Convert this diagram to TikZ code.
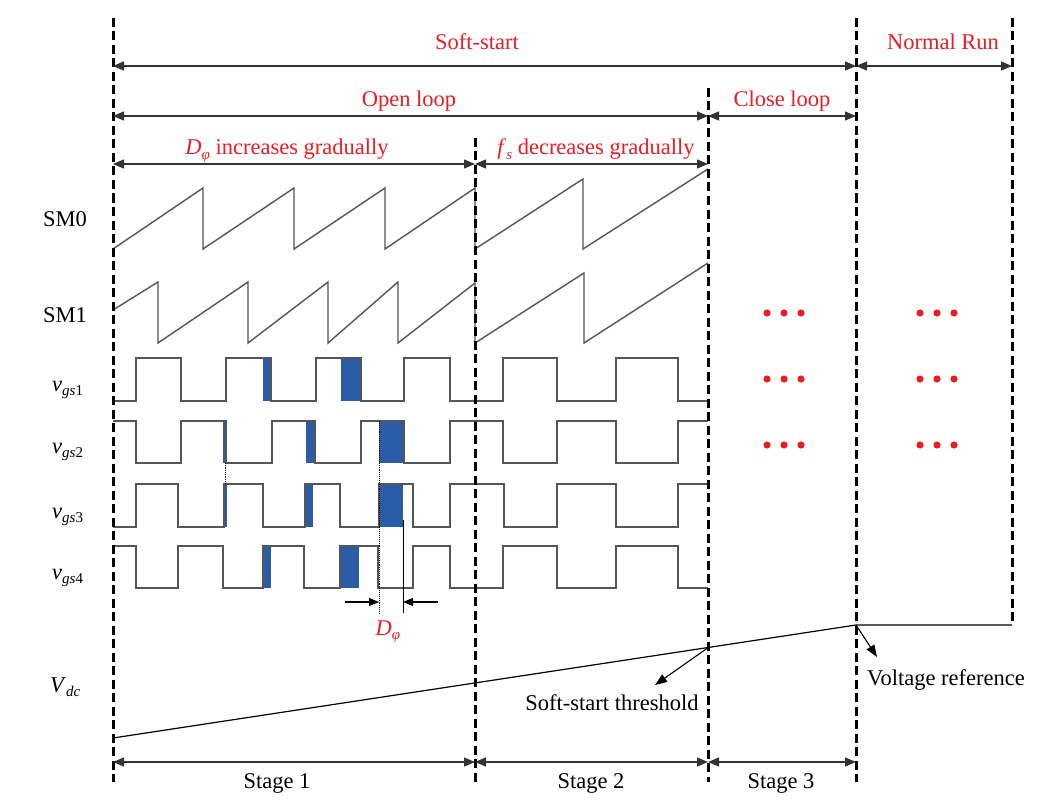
\documentclass[tikz,border=0pt]{standalone}
\usepackage{fontspec}
\setmainfont{Liberation Serif}
\usetikzlibrary{arrows.meta}
\definecolor{redt}{RGB}{235,28,36}
\definecolor{pulse}{RGB}{42,92,168}
\definecolor{wave}{RGB}{85,85,85}
\newcommand\lowsub[1]{\raisebox{-0.4ex}{\fontsize{15}{15}\selectfont #1}}
\begin{document}
\begin{tikzpicture}[x=1pt,y=-1pt,
  font=\fontsize{22.5}{26}\selectfont,
  bound/.style={line width=3pt, dash pattern=on 9pt off 4.5pt, black},
  span/.style={line width=1.3pt, draw=black!80, {Triangle[length=11pt,width=9pt]}-{Triangle[length=11pt,width=9pt]}},
  wv/.style={line width=1.4pt, draw=wave, line join=miter},
  lbl/.style={text=redt, inner sep=0pt, anchor=base},
  blk/.style={text=black, inner sep=0pt, anchor=base},
  sig/.style={inner sep=0pt, anchor=base west},
  pul/.style={fill=pulse},
  dot/.style={fill=redt, draw=none},
  callout/.style={line width=1.1pt, -{Triangle[length=12pt,width=9pt]}},
]
\useasboundingbox (0,0) rectangle (1062,805);

% ---------- boundaries ----------
\coordinate (b0t) at (113,18);   \coordinate (b0b) at (113,782);
\coordinate (b1t) at (475,138);  \coordinate (b1b) at (475,782);
\coordinate (b2t) at (708,88);   \coordinate (b2b) at (708,782);
\coordinate (b3t) at (856,18);   \coordinate (b3b) at (856,782);
\coordinate (b4t) at (1012,18);  \coordinate (b4b) at (1012,625);

% ---------- blue phase-shift fills ----------
\fill[pul] (263,358) rectangle (271,401);
\fill[pul] (341,358) rectangle (361,401);
\fill[pul] (223,421) rectangle (226,463);
\fill[pul] (306,421) rectangle (315,463);
\fill[pul] (379,421) rectangle (404,463);
\fill[pul] (224,484) rectangle (226.5,527);
\fill[pul] (305,484) rectangle (313,527);
\fill[pul] (379,484) rectangle (403,527);
\fill[pul] (263,546) rectangle (271,588);
\fill[pul] (340,546) rectangle (359,588);

% ---------- sawtooth carriers ----------
\draw[wv] (113,249) -- (203,188) -- (203,249) -- (294,188) -- (294,249) -- (385,188) -- (385,249) -- (475,188) -- (475,249) -- (583,179) -- (583,249) -- (708,169);
\draw[wv] (113,310) -- (158,282) -- (158,343) -- (248,282) -- (248,343) -- (328,282) -- (328,343) -- (398,282) -- (398,343) -- (475,283) -- (475,343) -- (584,273) -- (584,343) -- (708,263);

% ---------- gate signals ----------
\draw[wv] (113,401) -- (136,401) -- (136,358) -- (181,358) -- (181,401) -- (226,401) -- (226,358) -- (271,358) -- (271,401) -- (316,401) -- (316,358) -- (361,358) -- (361,401) -- (404,401) -- (404,358) -- (450,358) -- (450,401) -- (503,401) -- (503,358) -- (557,358) -- (557,401) -- (616,401) -- (616,358) -- (678,358) -- (678,401) -- (708,401);
\draw[wv] (113,421) -- (136,421) -- (136,463) -- (181,463) -- (181,421) -- (226,421) -- (226,463) -- (272,463) -- (272,421) -- (315,421) -- (315,463) -- (361,463) -- (361,421) -- (404,421) -- (404,463) -- (450,463) -- (450,421) -- (503,421) -- (503,463) -- (557,463) -- (557,421) -- (616,421) -- (616,463) -- (678,463) -- (678,421) -- (708,421);
\draw[wv] (113,527) -- (136,527) -- (136,484) -- (178,484) -- (178,527) -- (224,527) -- (224,484) -- (263,484) -- (263,527) -- (305,527) -- (305,484) -- (340,484) -- (340,527) -- (379,527) -- (379,484) -- (413,484) -- (413,527) -- (450,527) -- (450,484) -- (504,484) -- (504,527) -- (557,527) -- (557,484) -- (616,484) -- (616,527) -- (678,527) -- (678,484) -- (708,484);
\draw[wv] (113,546) -- (136,546) -- (136,588) -- (178,588) -- (178,546) -- (223,546) -- (223,588) -- (263,588) -- (263,546) -- (304,546) -- (304,588) -- (340,588) -- (340,546) -- (378,546) -- (378,588) -- (413,588) -- (413,546) -- (450,546) -- (450,588) -- (503,588) -- (503,546) -- (557,546) -- (557,588) -- (616,588) -- (616,546) -- (678,546) -- (678,588) -- (708,588);
\draw[densely dotted, line width=0.8pt] (225.5,463) -- (225.5,484);

% ---------- D_phi marker ----------
\coordinate (dl1) at (379,421); \coordinate (dl2) at (379,613);
\coordinate (dr1) at (403,520); \coordinate (dr2) at (403,613);
\draw[densely dotted, line width=0.9pt] (dl1) -- (dl2);
\draw[line width=0.9pt] (dr1) -- (dr2);
\coordinate (dal) at (345,602); \coordinate (dalt) at (379,602);
\coordinate (dar) at (438,602); \coordinate (dart) at (403,602);
\draw[line width=1.1pt, -{Triangle[length=10pt,width=8pt]}] (dal) -- (dalt);
\draw[line width=1.1pt, -{Triangle[length=10pt,width=8pt]}] (dar) -- (dart);
\node[lbl] (dphi) at (388,635) {\textit{D}\lowsub{\textit{φ}}};

% ---------- Vdc ----------
\coordinate (v0) at (113,738);
\coordinate (vth) at (707.5,648);
\coordinate (vref) at (856,625);
\coordinate (vend) at (1012,625);
\draw[line width=1.2pt] (v0) -- (vref) -- (vend);
\coordinate (thtip) at (655,685);
\coordinate (reftip) at (877,657);
\draw[callout] (vth) -- (thtip);
\draw[callout] (vref) -- (reftip);
\node[blk] (thl) at (612,710) {Soft-start threshold};
\node[blk] (refl) at (946,685) {Voltage reference};

% ---------- dashed boundaries ----------
\draw[bound] (b0t) -- (b0b);
\draw[bound] (b1t) -- (b1b);
\draw[bound] (b2t) -- (b2b);
\draw[bound] (b3t) -- (b3b);
\draw[bound] (b4t) -- (b4b);

% ---------- span arrows ----------
\draw[span] (113,66) -- (856,66);
\draw[span] (856,66) -- (1012,66);
\draw[span] (113,116) -- (708,116);
\draw[span] (708,116) -- (856,116);
\draw[span] (113,164) -- (475,164);
\draw[span] (475,164) -- (708,164);
\draw[span] (113,762) -- (475,762);
\draw[span] (475,762) -- (708,762);
\draw[span] (708,762) -- (856,762);

\node[lbl] (ss) at (477,50) {Soft-start};
\node[lbl] (nr) at (943,50) {Normal Run};
\node[lbl] (ol) at (409,107) {Open loop};
\node[lbl] (cl) at (782,107) {Close loop};
\node[lbl] (di) at (287,155) {\textit{D}\lowsub{\textit{φ}} increases gradually};
\node[lbl] (fd) at (596,155) {\textit{f}\lowsub{\textit{s}} decreases gradually};

\node[blk] (s1) at (277,788) {Stage 1};
\node[blk] (s2) at (591,788) {Stage 2};
\node[blk] (s3) at (781,788) {Stage 3};

% ---------- signal names ----------
\node[sig] (sm0) at (43,226) {SM0};
\node[sig] (sm1) at (43,322) {SM1};
\node[sig] (g1) at (52,391) {\textit{v}\lowsub{\textit{gs}1}};
\node[sig] (g2) at (52,453) {\textit{v}\lowsub{\textit{gs}2}};
\node[sig] (g3) at (52,518) {\textit{v}\lowsub{\textit{gs}3}};
\node[sig] (g4) at (52,579) {\textit{v}\lowsub{\textit{gs}4}};
\node[sig] (vdc) at (50,692) {\textit{V}\lowsub{\textit{dc}}};

% ---------- red ellipsis dots ----------
\foreach \yy in {313,379,445}{
  \foreach \xx in {767,784,801,920,937,954}{
    \fill[dot] (\xx,\yy) circle (3.6pt);
  }
}
\end{tikzpicture}
\end{document}
